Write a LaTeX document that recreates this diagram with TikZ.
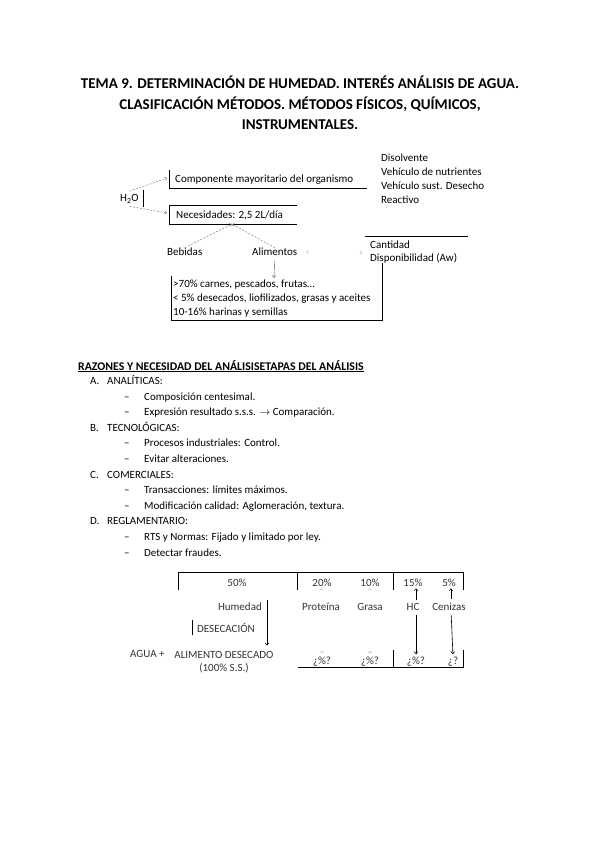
\documentclass[tikz,border=0pt]{standalone}
\usepackage{fontspec}
\setmainfont{Carlito}
\usetikzlibrary{arrows.meta}

\begin{document}
\begin{tikzpicture}[
		x=1pt, y=-1pt,
		every node/.style={inner sep=0pt, font=\fontsize{11}{13}\selectfont},
		tl/.style={anchor=base west},
		tc/.style={anchor=base},
		tr/.style={anchor=base east},
		title/.style={anchor=base, font=\bfseries\fontsize{15}{17}\selectfont},
		soft/.style={text=black!80},
		bar/.style={line width=0.6pt},
		dasharr/.style={draw=gray, line width=0.5pt, dash pattern=on 2pt off 1.5pt,
			-{Straight Barb[length=2pt, width=3.5pt]}},
		ghost/.style={draw=gray!70, dash pattern=on 0pt off 200pt, line cap=butt,
			>={Straight Barb[length=1.6pt, width=3.2pt]}},
		arr/.style={line width=0.6pt, -{Straight Barb[length=2.2pt, width=3.5pt]}}
	]
  \useasboundingbox (0, 0) rectangle (599, 848);

  \node (title1) [title] at (300, 89) {TEMA 9. DETERMINACIÓN DE HUMEDAD. INTERÉS ANÁLISIS DE AGUA.};
  \node (title2) [title] at (300, 110) {CLASIFICACIÓN MÉTODOS. MÉTODOS FÍSICOS, QUÍMICOS,};
  \node (title3) [title] at (300, 130) {INSTRUMENTALES.};

  % agua en el organismo
  \node (h2o) [tl, inner ysep=3pt] at (120, 201.5) {H\textsubscript{2}O};
  \node (comp) [tl] at (175, 182.5) {Componente mayoritario del organismo};
  \node (nec) [tl] at (176, 218) {Necesidades: 2,5 2L/día};
  \coordinate (comp_in) at (167, 178);
  \coordinate (nec_in) at (167, 213);
  \coordinate (nec_out) at (232, 224);
  \draw [bar] (143, 190) -- (143, 207);
  \draw [bar] (169, 170) -- (169, 188) -- (367, 188);
  \draw [bar] (297, 205) -- (169, 205) -- (169, 224) -- (297, 224);
  \draw [dasharr] (h2o.north) -- (comp_in);
  \draw [dasharr] (h2o.south) -- (nec_in);

  \node (uso1) [tl] at (381, 161.5) {Disolvente};
  \node (uso2) [tl] at (381, 175.5) {Vehículo de nutrientes};
  \node (uso3) [tl] at (381, 189.5) {Vehículo sust. Desecho};
  \node (uso4) [tl] at (381, 203) {Reactivo};

  \node (beb) [tl] at (167, 255.5) {Bebidas};
  \node (alim) [tl] at (252, 255.5) {Alimentos};
  \draw [dasharr] (beb.north) -- (nec_out);
  \draw [dasharr] (alim.north) -- (nec_out);

  \draw [bar] (365, 236) -- (468, 236);
  \node (cant) [tl] at (370, 248) {Cantidad};
  \node (disp) [tl] at (370, 261.5) {Disponibilidad (Aw)};
  \coordinate (cant_in) at (362, 253);
  \draw [ghost, <->, shorten <=9pt] (alim.east) -- (cant_in);

  \draw [bar] (171, 276) -- (171, 320) -- (382, 320) -- (382, 263);
  \node (pct1) [tl] at (173, 287) {>70\% carnes, pescados, frutas…};
  \node (pct2) [tl] at (173, 301) {< 5\% desecados, liofilizados, grasas y aceites};
  \node (pct3) [tl] at (173, 315) {10-16\% harinas y semillas};
  \coordinate (pct_in) at (274, 278);
  \draw [arr, draw=black!70, line width=0.4pt, shorten <=5pt] (alim.south) -- (pct_in);

  % razones
  \node (razones) [tl, font=\bfseries\fontsize{11.8}{13}\selectfont] at (78, 370)
    {\underline{RAZONES Y NECESIDAD DEL ANÁLISISETAPAS DEL ANÁLISIS}};
  \node (a) [tl] at (90, 384.5) {A.};
  \node (a_t) [tl] at (107, 384.5) {ANALÍTICAS:};
  \node (a1) [tl] at (124, 400) {–};
  \node (a1_t) [tl] at (144, 400) {Composición centesimal.};
  \node (a2) [tl] at (124, 415.6) {–};
  \node (a2_t) [tl] at (144, 415.6) {Expresión resultado s.s.s. $\rightarrow$ Comparación.};
  \node (b) [tl] at (90, 431.2) {B.};
  \node (b_t) [tl] at (107, 431.2) {TECNOLÓGICAS:};
  \node (b1) [tl] at (124, 446.8) {–};
  \node (b1_t) [tl] at (144, 446.8) {Procesos industriales: Control.};
  \node (b2) [tl] at (124, 462.4) {–};
  \node (b2_t) [tl] at (144, 462.4) {Evitar alteraciones.};
  \node (c) [tl] at (90, 478) {C.};
  \node (c_t) [tl] at (107, 478) {COMERCIALES:};
  \node (c1) [tl] at (124, 493.6) {–};
  \node (c1_t) [tl] at (144, 493.6) {Transacciones: límites máximos.};
  \node (c2) [tl] at (124, 509.2) {–};
  \node (c2_t) [tl] at (144, 509.2) {Modificación calidad: Aglomeración, textura.};
  \node (d) [tl] at (90, 524.8) {D.};
  \node (d_t) [tl] at (107, 524.8) {REGLAMENTARIO:};
  \node (d1) [tl] at (124, 540.4) {–};
  \node (d1_t) [tl] at (144, 540.4) {RTS y Normas: Fijado y limitado por ley.};
  \node (d2) [tl] at (124, 556) {–};
  \node (d2_t) [tl] at (144, 556) {Detectar fraudes.};

  % composicion
  \draw [bar] (178, 590) -- (178, 572) -- (463, 572) -- (463, 590);
  \draw [bar] (297, 572) -- (297, 590);
  \draw [bar] (393, 572) -- (393, 590);
  \node (p50) [tc, soft] at (237, 586) {50\%};
  \node (p20) [tc, soft] at (322, 586) {20\%};
  \node (p10) [tc, soft] at (370, 586) {10\%};
  \node (p15) [tc, soft] at (413, 586) {15\%};
  \node (p5) [tc, soft] at (449, 586) {5\%};

  \node (hum) [tr, soft] at (262, 610) {Humedad};
  \node (prot) [tc, soft] at (321, 610) {Proteína};
  \node (gras) [tc, soft] at (370, 610) {Grasa};
  \node (hc) [tc, soft] at (413, 610) {HC};
  \node (cen) [tc, soft] at (449, 610) {Cenizas};

  \node (des) [tl, soft] at (197, 632) {DESECACIÓN};
  \draw [bar] (192, 620) -- (192, 635);
  \node (agua) [tl, soft] at (130, 657.5) {AGUA +};
  \node (alimd) [tc, soft] at (224, 658) {ALIMENTO DESECADO};
  \node (ss) [tc, soft] at (224, 671) {(100\% S.S.)};
  \coordinate (hum_out) at (267, 600);
  \draw [arr, shorten >=5pt] (hum_out) -- (hum_out |- alimd.north);

  \node (q_prot) [tc, soft] at (322, 664) {¿\%?};
  \node (q_gras) [tc, soft] at (370, 664) {¿\%?};
  \node (q_hc) [tc, soft] at (416, 664) {¿\%?};
  \node (q_cen) [tc, soft] at (453, 664) {¿?};

  \draw [ghost, ->, shorten <=3pt, shorten >=2pt] (prot) -- (p20);
  \draw [ghost, ->, shorten <=3pt, shorten >=2pt] (gras) -- (p10);
  \draw [ghost, ->, shorten <=4pt, shorten >=3pt] (prot) -- (q_prot);
  \draw [ghost, ->, shorten <=4pt, shorten >=3pt] (gras) -- (q_gras);
  \draw [arr, line width=0.4pt, shorten <=3pt, shorten >=2pt] ([xshift=3pt]hc.north) -- ([xshift=3pt]p15.south);
  \draw [arr, line width=0.4pt, shorten <=3pt, shorten >=2pt] ([xshift=2pt]cen.north) -- ([xshift=2pt]p5.south);
  \draw [arr, shorten <=5pt, shorten >=2pt] ([xshift=3pt]hc.south) -- (q_hc.north);
  \draw [arr, shorten <=5pt, shorten >=2pt] ([xshift=2pt]cen.south) -- (q_cen.north);

  \draw [bar] (298, 667) -- (463, 667) -- (463, 650);
  \draw [bar] (393, 650) -- (393, 667);
\end{tikzpicture}
\end{document}
